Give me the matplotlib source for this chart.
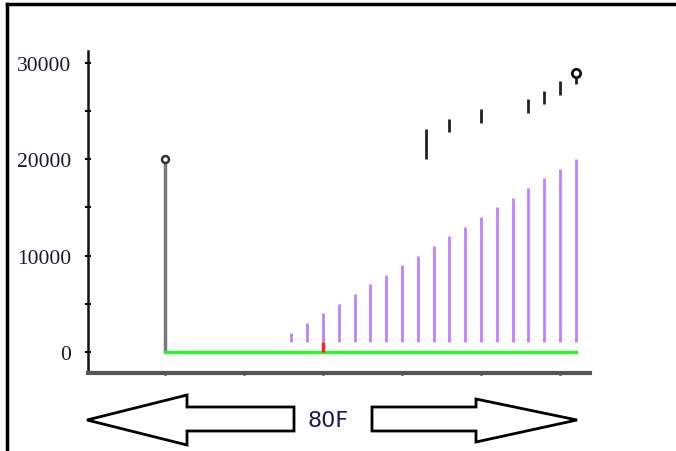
import numpy as np
import matplotlib
matplotlib.use("Agg")
import matplotlib.pyplot as plt
from matplotlib.lines import Line2D
from matplotlib.patches import Polygon

# --- data ---
base_x = 0
base_top = 20000
base_line_end = 5.2

violet_x = [1.6, 1.8, 2.0, 2.2, 2.4, 2.6, 2.8, 3.0, 3.2, 3.4,
            3.6, 3.8, 4.0, 4.2, 4.4, 4.6, 4.8, 5.0, 5.2]
violet_top = [2000, 3000, 4000, 5000, 6000, 7000, 8000, 9000, 10000, 11000,
              12000, 13000, 14000, 15000, 16000, 17000, 18000, 19000, 20000]
violet_bottom = 1000

red_x = 2.0
red_top = 1000

range_x = [3.3, 3.6, 4.0, 4.6, 4.8, 5.0, 5.2]
range_low = [20000, 22800, 23700, 24800, 25700, 26600, 27800]
range_high = [23100, 24100, 25200, 26200, 27100, 28100, 28900]

yticks = [0, 10000, 20000, 30000]
ytick_labels = ["0", "10000", "20000", "30000"]
xticks = [0, 1, 2, 3, 4, 5]
label_text = "80F"

W, H = 676, 452
fig = plt.figure(figsize=(W / 100, H / 100), dpi=100)
ax = fig.add_axes([88 / W, 78 / H, 502 / W, 322 / H])

# stems
ax.vlines(base_x, 0, base_top, color="#7a7a7a", lw=2.5, zorder=3)
ax.plot([base_x], [base_top], marker="o", ms=5, mfc="white", mec="#333333",
        mew=1.8, zorder=4)
ax.plot([base_x, base_line_end], [0, 0], color="#33f033", lw=2.5, zorder=3)
ax.vlines(violet_x, violet_bottom, violet_top, color="#c080ff", lw=2)
ax.vlines(red_x, 0, red_top, color="#ff2020", lw=2.5, zorder=4)
ax.vlines(range_x, range_low, range_high, color="#222222", lw=2)
ax.plot([range_x[-1]], [range_high[-1]], marker="o", ms=6, mfc="white",
        mec="#111111", mew=2, zorder=4)

ax.set_xlim(-0.975, 5.38)
ax.set_ylim(-2180, 31200)
ax.set_xticks(xticks)
ax.set_xticklabels([])
ax.set_yticks(yticks)
ax.set_yticklabels(ytick_labels, fontfamily="Liberation Serif", fontsize=15.5,
                   color="#1a1a2a")
ax.set_yticks([5000, 15000, 25000], minor=True)
ax.tick_params(axis="y", which="both", direction="inout", length=4, width=1.5,
               pad=10)
ax.tick_params(axis="x", direction="inout", length=3, width=2, color="#111111")

for s in ["top", "right"]:
    ax.spines[s].set_visible(False)
ax.spines["left"].set_linewidth(1.8)
ax.spines["left"].set_color("#111111")
ax.spines["bottom"].set_linewidth(3)
ax.spines["bottom"].set_color("#555555")


def px(points):
    return [(x / W, 1 - y / H) for x, y in points]


# page frame (left and top edges)
fig.add_artist(Line2D([7 / W, 7 / W], [0, 1 - 5 / H], color="black", lw=2.5,
                      transform=fig.transFigure))
fig.add_artist(Line2D([7 / W, 1], [1 - 5 / H, 1 - 5 / H], color="black", lw=2.5,
                      transform=fig.transFigure))

# arrows under the axis
left_arrow = [(87, 421), (187, 396), (187, 408), (294, 408), (294, 432),
              (187, 432), (187, 446)]
right_arrow = [(372, 408), (476, 408), (476, 400), (577, 421), (476, 443),
               (476, 432), (372, 432)]
for pts in (left_arrow, right_arrow):
    fig.add_artist(Polygon(px(pts), closed=True, fill=False, ec="black", lw=2,
                           transform=fig.transFigure))

fig.text(328 / W, 1 - 421 / H, label_text, ha="center", va="center",
         fontsize=16, color="#1a1a50",
         family=["Liberation Sans Narrow", "DejaVu Sans Condensed", "DejaVu Sans"])

fig.savefig("out.png", dpi=100)
